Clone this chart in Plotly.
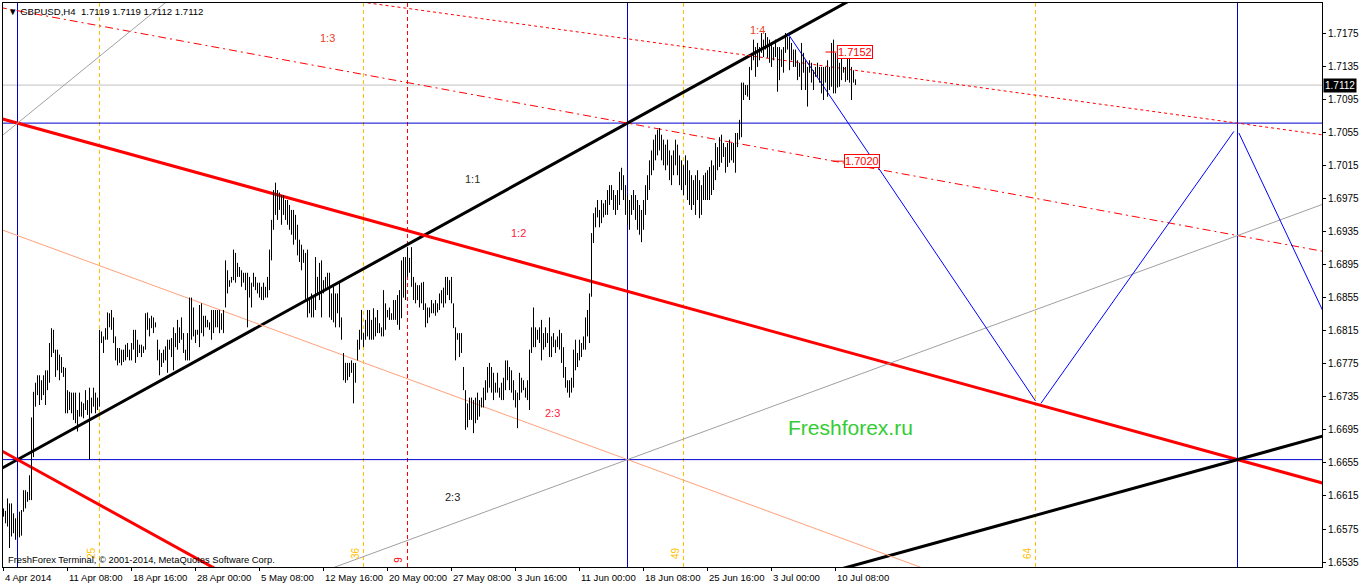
import plotly.graph_objects as go

# ---------------- data (GBPUSD H4, bar index 0 = 4 Apr 2014 00:00) ----------------
highs = [
1.6600,1.6597,1.6612,1.6606,1.6606,1.6594,1.6588,1.6590,1.6596,1.6598,
1.6622,1.6622,1.6620,1.6640,1.6710,1.6741,1.6752,1.6761,1.6761,1.6755,
1.6761,1.6767,1.6767,1.6800,1.6818,1.6816,1.6792,1.6792,1.6786,1.6783,
1.6771,1.6770,1.6743,1.6741,1.6740,1.6740,1.6740,1.6719,1.6740,1.6729,
1.6727,1.6743,1.6731,1.6746,1.6734,1.6746,1.6740,1.6734,1.6816,1.6814,
1.6808,1.6818,1.6837,1.6836,1.6840,1.6831,1.6808,1.6794,1.6794,1.6792,
1.6792,1.6798,1.6800,1.6792,1.6800,1.6816,1.6816,1.6804,1.6798,1.6798,
1.6796,1.6836,1.6837,1.6830,1.6833,1.6831,1.6825,1.6804,1.6792,1.6788,
1.6792,1.6796,1.6804,1.6804,1.6806,1.6819,1.6812,1.6828,1.6819,1.6831,
1.6812,1.6792,1.6812,1.6855,1.6855,1.6843,1.6816,1.6816,1.6846,1.6848,
1.6833,1.6833,1.6828,1.6825,1.6840,1.6840,1.6840,1.6840,1.6840,1.6836,
1.6840,1.6900,1.6888,1.6876,1.6880,1.6913,1.6909,1.6897,1.6892,1.6888,
1.6885,1.6885,1.6885,1.6880,1.6873,1.6885,1.6880,1.6873,1.6873,1.6868,
1.6873,1.6868,1.6880,1.6913,1.6949,1.6985,1.6994,1.6985,1.6982,1.6979,
1.6979,1.6973,1.6973,1.6967,1.6961,1.6961,1.6955,1.6943,1.6925,1.6919,
1.6913,1.6909,1.6913,1.6855,1.6860,1.6855,1.6904,1.6880,1.6897,1.6900,
1.6876,1.6880,1.6885,1.6885,1.6860,1.6868,1.6860,1.6860,1.6873,1.6831,
1.6788,1.6776,1.6776,1.6776,1.6779,1.6776,1.6776,1.6804,1.6816,1.6840,
1.6812,1.6828,1.6840,1.6840,1.6828,1.6842,1.6831,1.6840,1.6824,1.6819,
1.6864,1.6848,1.6840,1.6843,1.6836,1.6852,1.6852,1.6858,1.6864,1.6900,
1.6904,1.6904,1.6916,1.6903,1.6916,1.6880,1.6873,1.6870,1.6870,1.6873,
1.6874,1.6848,1.6843,1.6843,1.6852,1.6848,1.6852,1.6848,1.6860,1.6864,
1.6867,1.6880,1.6880,1.6876,1.6880,1.6848,1.6819,1.6812,1.6812,1.6812,
1.6771,1.6743,1.6727,1.6734,1.6734,1.6731,1.6734,1.6740,1.6731,1.6734,
1.6746,1.6755,1.6771,1.6776,1.6771,1.6764,1.6752,1.6764,1.6746,1.6752,
1.6758,1.6779,1.6779,1.6771,1.6767,1.6755,1.6743,1.6740,1.6764,1.6758,
1.6755,1.6746,1.6755,1.6792,1.6819,1.6843,1.6819,1.6816,1.6819,1.6828,
1.6812,1.6819,1.6812,1.6831,1.6808,1.6812,1.6804,1.6808,1.6816,1.6812,
1.6795,1.6771,1.6755,1.6755,1.6758,1.6792,1.6804,1.6788,1.6804,1.6800,
1.6808,1.6831,1.6840,1.6860,1.6933,1.6957,1.6964,1.6973,1.6961,1.6973,
1.6969,1.6973,1.6985,1.6991,1.6991,1.6985,1.6979,1.6985,1.7007,1.7012,
1.7003,1.6991,1.6979,1.6973,1.6979,1.6985,1.6979,1.6973,1.6967,1.6961,
1.6973,1.6991,1.7003,1.7021,1.7033,1.7046,1.7052,1.7058,1.7060,1.7052,
1.7046,1.7040,1.7046,1.7033,1.7027,1.7033,1.7046,1.7040,1.7027,1.7021,
1.7015,1.7027,1.7021,1.7009,1.7003,1.6997,1.7003,1.7009,1.6997,1.6991,
1.7003,1.7006,1.7009,1.7013,1.7021,1.7015,1.7042,1.7037,1.7049,1.7052,
1.7042,1.7037,1.7042,1.7046,1.7042,1.7042,1.7054,1.7054,1.7070,1.7115,
1.7115,1.7112,1.7112,1.7134,1.7151,1.7167,1.7158,1.7163,1.7158,1.7175,
1.7167,1.7175,1.7170,1.7167,1.7163,1.7158,1.7167,1.7158,1.7158,1.7155,
1.7158,1.7175,1.7170,1.7170,1.7163,1.7155,1.7155,1.7142,1.7139,1.7163,
1.7151,1.7142,1.7134,1.7142,1.7139,1.7130,1.7134,1.7139,1.7134,1.7134,
1.7134,1.7134,1.7142,1.7134,1.7163,1.7167,1.7151,1.7155,1.7139,1.7155,
1.7134,1.7134,1.7151,1.7155,1.7134,1.7130,1.7119]

lows = [
1.6590,1.6582,1.6578,1.6552,1.6566,1.6570,1.6562,1.6566,1.6565,1.6567,
1.6596,1.6600,1.6608,1.6610,1.6610,1.6662,1.6723,1.6737,1.6725,1.6731,
1.6737,1.6725,1.6743,1.6752,1.6783,1.6788,1.6759,1.6767,1.6755,1.6764,
1.6759,1.6715,1.6715,1.6719,1.6715,1.6707,1.6703,1.6693,1.6711,1.6711,
1.6709,1.6719,1.6713,1.6659,1.6715,1.6723,1.6715,1.6719,1.6723,1.6800,
1.6788,1.6804,1.6804,1.6819,1.6816,1.6800,1.6779,1.6773,1.6776,1.6773,
1.6777,1.6779,1.6783,1.6779,1.6779,1.6792,1.6776,1.6783,1.6788,1.6783,
1.6788,1.6792,1.6816,1.6808,1.6818,1.6812,1.6819,1.6779,1.6761,1.6771,
1.6776,1.6779,1.6764,1.6792,1.6783,1.6767,1.6795,1.6792,1.6800,1.6804,
1.6788,1.6779,1.6779,1.6779,1.6804,1.6808,1.6800,1.6810,1.6795,1.6812,
1.6808,1.6819,1.6819,1.6816,1.6804,1.6812,1.6819,1.6819,1.6812,1.6816,
1.6812,1.6843,1.6860,1.6868,1.6873,1.6876,1.6873,1.6880,1.6880,1.6868,
1.6873,1.6864,1.6819,1.6855,1.6843,1.6868,1.6864,1.6860,1.6855,1.6852,
1.6852,1.6855,1.6855,1.6864,1.6900,1.6937,1.6955,1.6949,1.6961,1.6943,
1.6955,1.6949,1.6943,1.6937,1.6931,1.6919,1.6925,1.6906,1.6898,1.6888,
1.6897,1.6852,1.6831,1.6836,1.6831,1.6831,1.6840,1.6860,1.6852,1.6831,
1.6860,1.6864,1.6868,1.6831,1.6828,1.6825,1.6819,1.6836,1.6819,1.6804,
1.6755,1.6752,1.6755,1.6759,1.6764,1.6727,1.6752,1.6779,1.6792,1.6804,
1.6795,1.6804,1.6808,1.6804,1.6804,1.6804,1.6808,1.6812,1.6812,1.6808,
1.6808,1.6816,1.6831,1.6828,1.6828,1.6828,1.6828,1.6822,1.6816,1.6830,
1.6855,1.6852,1.6880,1.6885,1.6868,1.6852,1.6848,1.6852,1.6843,1.6848,
1.6840,1.6819,1.6824,1.6831,1.6836,1.6836,1.6833,1.6837,1.6840,1.6848,
1.6843,1.6848,1.6858,1.6852,1.6848,1.6818,1.6779,1.6804,1.6783,1.6788,
1.6743,1.6695,1.6698,1.6707,1.6707,1.6691,1.6703,1.6707,1.6711,1.6722,
1.6722,1.6731,1.6740,1.6746,1.6740,1.6731,1.6740,1.6740,1.6734,1.6731,
1.6731,1.6743,1.6755,1.6743,1.6740,1.6731,1.6722,1.6697,1.6731,1.6740,
1.6743,1.6734,1.6731,1.6719,1.6788,1.6795,1.6795,1.6804,1.6800,1.6779,
1.6792,1.6795,1.6800,1.6783,1.6783,1.6795,1.6788,1.6795,1.6792,1.6776,
1.6758,1.6746,1.6740,1.6734,1.6740,1.6746,1.6767,1.6771,1.6779,1.6783,
1.6792,1.6792,1.6808,1.6800,1.6856,1.6921,1.6940,1.6952,1.6940,1.6945,
1.6952,1.6955,1.6955,1.6967,1.6973,1.6961,1.6955,1.6961,1.6967,1.6985,
1.6973,1.6955,1.6943,1.6937,1.6955,1.6961,1.6949,1.6937,1.6931,1.6922,
1.6937,1.6955,1.6973,1.6985,1.7003,1.7009,1.7021,1.7027,1.7033,1.7021,
1.7015,1.7009,1.7015,1.6997,1.6991,1.7003,1.7015,1.7003,1.6991,1.6985,
1.6979,1.6991,1.6973,1.6967,1.6961,1.6967,1.6955,1.6973,1.6951,1.6955,
1.6973,1.6973,1.6973,1.6973,1.6979,1.6985,1.6997,1.7009,1.7013,1.7018,
1.7025,1.7006,1.7013,1.7018,1.7021,1.7018,1.7006,1.7037,1.7046,1.7049,
1.7094,1.7100,1.7098,1.7094,1.7130,1.7142,1.7122,1.7134,1.7142,1.7151,
1.7146,1.7155,1.7145,1.7139,1.7134,1.7142,1.7146,1.7104,1.7118,1.7134,
1.7127,1.7151,1.7155,1.7130,1.7142,1.7134,1.7134,1.7118,1.7122,1.7106,
1.7127,1.7106,1.7086,1.7127,1.7115,1.7106,1.7122,1.7122,1.7115,1.7102,
1.7094,1.7115,1.7098,1.7106,1.7110,1.7102,1.7102,1.7109,1.7110,1.7118,
1.7127,1.7116,1.7118,1.7115,1.7094,1.7115,1.7112]

time_tick_index = [0, 32, 64, 96, 128, 160, 192, 224, 256, 288, 320, 352, 384, 416]
time_tick_text = ["4 Apr 2014", "11 Apr 08:00", "18 Apr 16:00", "28 Apr 00:00", "5 May 08:00",
                  "12 May 16:00", "20 May 00:00", "27 May 08:00", "3 Jun 16:00", "11 Jun 00:00",
                  "18 Jun 08:00", "25 Jun 16:00", "3 Jul 00:00", "10 Jul 08:00"]
price_ticks = [1.6535, 1.6575, 1.6615, 1.6655, 1.6695, 1.6735, 1.6775, 1.6815, 1.6855,
               1.6895, 1.6935, 1.6975, 1.7015, 1.7055, 1.7095, 1.7135, 1.7175]
last_price = 1.7112
header = "GBPUSD,H4  1.7119 1.7119 1.7112 1.7112"

# analysis objects (bar index, price)
box_times = [7, 312, 617]
box_prices = [1.7066, 1.6659]
fibo_time_zones = [48, 180, 340, 516]
fibo_zone_labels = ["25", "36", "49", "64"]
red_time_line = 202
trend_lines = [
    # (t0, p0, t1, p1, color, width, dash)
    (7, 1.6659, 312, 1.7066, "#000000", 3, "solid"),
    (7, 1.7066, 617, 1.6659, "#FF0000", 3, "solid"),
    (7, 1.6659, 312, 1.6252, "#FF0000", 3, "solid"),
    (7, 1.6252, 617, 1.6659, "#000000", 3, "solid"),
    (7, 1.6930, 312, 1.6659, "#FFA07A", 1, "solid"),
    (312, 1.7066, 617, 1.6930, "#FF0000", 1, "8px,4px,2px,4px"),
    (312, 1.7168, 617, 1.7066, "#FF0000", 1, "3px,3px"),
    (312, 1.6659, 617, 1.6930, "#A0A0A0", 1, "solid"),
    (7, 1.7066, 210, 1.7466, "#A0A0A0", 1, "solid"),
]
zigzag = [
    (392, 1.7175, 516, 1.6730),
    (518.7, 1.6727, 615.2, 1.7056),
    (617.7, 1.7054, 662, 1.6827),
]
text_marks = [
    ("1:3", 162.2, 1.7169, "#F04020"),
    ("1:4", 377.2, 1.7179, "#F04020"),
    ("1:1", 234.7, 1.6999, "#303020"),
    ("1:2", 257.7, 1.6933, "#FF2040"),
    ("2:3", 274.7, 1.6715, "#FF2040"),
    ("2:3", 224.7, 1.6614, "#202020"),
]
price_boxes = [(1.7152, 411, 416.5), (1.7020, 414.7, 420.2)]

X_MIN, X_MAX = -0.25, 659.25
Y_MIN, Y_MAX = 1.65291, 1.72113
FONT = "Tahoma, Liberation Sans, DejaVu Sans, sans-serif"
YELLOW = "#FFC000"
BLUE = "#0000CD"


def seg(x, y, color, width=1, dash="solid"):
    fig.add_trace(go.Scatter(x=x, y=y, mode="lines", line=dict(color=color, width=width, dash=dash),
                             hoverinfo="skip", showlegend=False))


fig = go.Figure()

# vertical / horizontal reference lines
for t in fibo_time_zones:
    seg([t, t], [Y_MIN, Y_MAX], YELLOW, 1, "4px,3px")
seg([red_time_line, red_time_line], [Y_MIN, Y_MAX], "#FF0000", 1, "4px,3px")
seg([X_MIN, X_MAX], [last_price, last_price], "#C0C0C0")
for t in box_times:
    seg([t, t], [Y_MIN, Y_MAX], BLUE)
for p in box_prices:
    seg([X_MIN, X_MAX], [p, p], BLUE)

# trend lines (extended as rays across the chart)
for t0, p0, t1, p1, col, w, dash in trend_lines:
    k = (p1 - p0) / (t1 - t0)
    xa, xb = -20, 700
    seg([xa, xb], [p0 + k * (xa - t0), p0 + k * (xb - t0)], col, w, dash)

for t0, p0, t1, p1 in zigzag:
    seg([t0, t1], [p0, p1], "#0000FF")

# price bars
bx, by = [], []
for i, (h, l) in enumerate(zip(highs, lows)):
    bx += [i, i, None]
    by += [l, h, None]
seg(bx, by, "black")

# price label tick lines
for p, t0, t1 in price_boxes:
    seg([t0, t1], [p, p], "#FF0000")

ann = []
for t, txt in zip(time_tick_index, time_tick_text):
    ann.append(dict(x=t, y=0, xref="x", yref="paper", text=txt, showarrow=False,
                    xanchor="left", yanchor="top", yshift=-3, xshift=-1,
                    font=dict(family=FONT, size=9.6, color="black")))
for txt, t, p, col in text_marks:
    ann.append(dict(x=t, y=p, xref="x", yref="y", text=txt, showarrow=False,
                    xanchor="center", yanchor="middle",
                    font=dict(family=FONT, size=11, color=col)))
for p, t0, t1 in price_boxes:
    ann.append(dict(x=t1, y=p, xref="x", yref="y", text=f"{p:.4f}", showarrow=False,
                    xanchor="left", yanchor="middle", bgcolor="white", bordercolor="#FF0000",
                    borderwidth=1, borderpad=0,
                    font=dict(family=FONT, size=11, color="#FF0000")))
for t, lab in zip(fibo_time_zones, fibo_zone_labels):
    ann.append(dict(x=t, y=1.6546, xref="x", yref="y", text=lab, showarrow=False, textangle=-90,
                    xanchor="right", yanchor="middle", xshift=-1,
                    font=dict(family=FONT, size=10, color=YELLOW)))
ann.append(dict(x=red_time_line, y=1.6538, xref="x", yref="y", text="9", showarrow=False, textangle=-90,
                xanchor="right", yanchor="middle", xshift=-1,
                font=dict(family=FONT, size=10, color="#FF0000")))
ann.append(dict(x=1, y=last_price, xref="paper", yref="y", text=f"{last_price:.4f}", showarrow=False,
                xanchor="left", yanchor="middle", xshift=1, bgcolor="black", borderpad=1,
                font=dict(family=FONT, size=10, color="white")))
ann.append(dict(x=0, y=1, xref="paper", yref="paper", text="\u25BC " + header, showarrow=False,
                xanchor="left", yanchor="top", xshift=3, yshift=-1,
                font=dict(family=FONT, size=9.6, color="black")))
ann.append(dict(x=0, y=0, xref="paper", yref="paper",
                text="FreshForex Terminal, \u00A9 2001-2014, MetaQuotes Software Corp.", showarrow=False,
                xanchor="left", yanchor="bottom", xshift=3, yshift=0,
                font=dict(family=FONT, size=9.4, color="black")))
ann.append(dict(x=0.6429, y=0.248, xref="paper", yref="paper", text="Freshforex.ru", showarrow=False,
                xanchor="center", yanchor="middle",
                font=dict(family="Liberation Sans, Arial, sans-serif", size=21, color="#33CC33")))

fig.update_layout(
    width=1362, height=586,
    margin=dict(l=3, r=40, t=3, b=19),
    paper_bgcolor="white", plot_bgcolor="white",
    annotations=ann, showlegend=False,
    xaxis=dict(range=[X_MIN, X_MAX], showgrid=False, zeroline=False,
               tickvals=time_tick_index, ticktext=[""] * len(time_tick_index),
               ticks="outside", ticklen=3, tickcolor="black",
               showline=True, linecolor="black", linewidth=1, mirror=True),
    yaxis=dict(range=[Y_MIN, Y_MAX], side="right", showgrid=False, zeroline=False,
               tickvals=price_ticks, tickformat=".4f", ticks="outside", ticklen=3, tickcolor="black",
               tickfont=dict(family=FONT, size=10, color="black"),
               showline=True, linecolor="black", linewidth=1, mirror=True),
)

fig.write_html("out.html", config={"displayModeBar": False},
               post_script="document.body.style.margin='0';document.body.style.padding='0';")
